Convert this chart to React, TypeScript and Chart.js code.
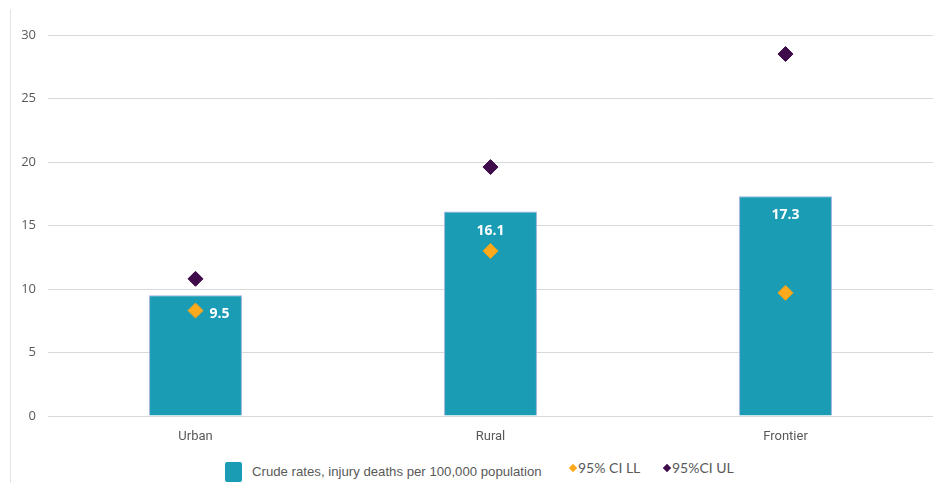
import React, { useEffect, useRef } from "react";
import { Chart, registerables } from "chart.js";

Chart.register(...registerables);

const categories = ["Urban", "Rural", "Frontier"];
const crudeRates = [9.5, 16.1, 17.3];
const ciLower = [8.3, 13.0, 9.7];
const ciUpper = [10.8, 19.6, 28.5];
const yTicks = [0, 5, 10, 15, 20, 25, 30];

const BAR_COLOR = "#1A9CB5";
const LL_COLOR = "#FFAA1C";
const UL_COLOR = "#3E0B4B";

const labelPlugin = {
  id: "barLabels",
  afterDatasetsDraw(chart: any) {
    const meta = chart.getDatasetMeta(0);
    const ctx = chart.ctx;
    ctx.save();
    ctx.fillStyle = "#ffffff";
    ctx.font = "bold 14px 'Open Sans', 'Liberation Sans', sans-serif";
    ctx.textAlign = "center";
    ctx.textBaseline = "middle";
    meta.data.forEach((bar: any, i: number) => {
      const v = crudeRates[i];
      const dx = i === 0 ? 24 : 0;
      ctx.fillText(v.toFixed(1), bar.x + dx, bar.y + 19);
    });
    ctx.restore();
  },
};

export default function App() {
  const ref = useRef<HTMLCanvasElement | null>(null);
  useEffect(() => {
    if (!ref.current) return;
    const chart = new Chart(ref.current, {
      type: "bar",
      data: {
        labels: categories,
        datasets: [
          {
            type: "bar",
            label: "Crude rates, injury deaths per 100,000 population",
            data: crudeRates,
            backgroundColor: BAR_COLOR,
            borderColor: "#9DB3E0",
            borderWidth: 1,
            barPercentage: 0.315,
            categoryPercentage: 1,
            order: 3,
          } as any,
          {
            type: "line",
            label: "95% CI LL",
            data: ciLower,
            showLine: false,
            pointStyle: "rectRot",
            pointRadius: 7.5,
            pointBackgroundColor: LL_COLOR,
            pointBorderColor: "#F2A11A",
            pointBorderWidth: 1,
            order: 1,
          } as any,
          {
            type: "line",
            label: "95%CI UL",
            data: ciUpper,
            showLine: false,
            pointStyle: "rectRot",
            pointRadius: 7.5,
            pointBackgroundColor: UL_COLOR,
            pointBorderColor: UL_COLOR,
            pointBorderWidth: 1,
            order: 2,
          } as any,
        ],
      },
      options: {
        animation: false,
        responsive: false,
        maintainAspectRatio: false,
        layout: { autoPadding: false, padding: { top: 26, right: 3, left: 0, bottom: 0 } },
        plugins: {
          legend: { display: false },
          tooltip: { enabled: false },
        },
        scales: {
          x: {
            grid: { display: false, drawTicks: false },
            border: { display: false },
            ticks: {
              padding: 13,
              color: "#595959",
              font: { family: "Roboto, 'Liberation Sans', sans-serif", size: 13 },
            },
            afterFit: (s: any) => {
              s.height = 33;
            },
          },
          y: {
            min: 0,
            max: 30,
            afterBuildTicks: (s: any) => {
              s.ticks = yTicks.map((v) => ({ value: v }));
            },
            grid: { color: "#D9D9D9", lineWidth: 1, drawTicks: false },
            border: { display: false },
            ticks: {
              padding: 12,
              color: "#595959",
              font: { family: "'Open Sans', 'Liberation Sans', sans-serif", size: 13 },
            },
            afterFit: (s: any) => {
              s.width = 38;
            },
          },
        },
      },
      plugins: [labelPlugin],
    });
    return () => chart.destroy();
  }, []);

  const legendText: React.CSSProperties = {
    position: "absolute",
    fontFamily: "'Liberation Sans', Arial, sans-serif",
    fontSize: 13.2,
    color: "#595959",
    whiteSpace: "nowrap",
    lineHeight: "16px",
  };
  const ciText: React.CSSProperties = {
    ...legendText,
    fontFamily: "Lato, 'Open Sans', sans-serif",
    fontSize: 14,
  };
  const diamond = (color: string): React.CSSProperties => ({
    position: "absolute",
    width: 6,
    height: 6,
    background: color,
    transform: "rotate(45deg)",
  });

  return (
    <div
      style={{
        position: "absolute",
        left: 10,
        top: 9,
        width: 926,
        height: 474,
        overflow: "hidden",
        borderLeft: "1px solid #E3E3E3",
        boxSizing: "border-box",
        background: "#ffffff",
      }}
    >
      <canvas
        ref={ref}
        width={926}
        height={440}
        style={{ position: "absolute", left: -1, top: 0, width: 926, height: 440 }}
      />
      <div
        style={{
          position: "absolute",
          left: 214,
          top: 453,
          width: 17,
          height: 20,
          background: BAR_COLOR,
          borderRadius: 2,
        }}
      />
      <div style={{ ...legendText, left: 241, top: 455 }}>
        Crude rates, injury deaths per 100,000 population
      </div>
      <div style={{ ...diamond(LL_COLOR), left: 559, top: 456 }} />
      <div style={{ ...ciText, left: 567, top: 451 }}>95% CI LL</div>
      <div style={{ ...diamond(UL_COLOR), left: 653, top: 456 }} />
      <div style={{ ...ciText, left: 661, top: 451 }}>95%CI UL</div>
    </div>
  );
}
